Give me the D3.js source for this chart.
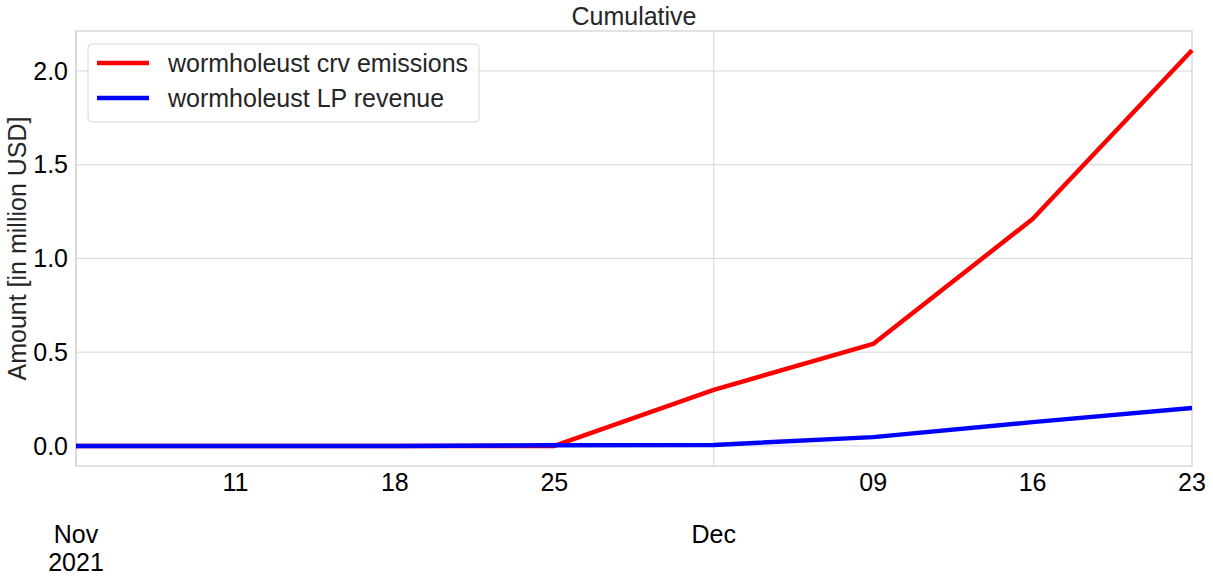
<!DOCTYPE html>
<html>
<head>
<meta charset="utf-8">
<script src="https://cdn.jsdelivr.net/npm/d3@7"></script>
<style>
  body { margin: 0; background: #fff; }
  svg { display: block; font-family: "Liberation Sans", Arial, sans-serif; }
</style>
</head>
<body>
<svg width="1213" height="583"></svg>
<script>
// weekly dates (Thursdays)
const dates = ["2021-11-04", "2021-11-11", "2021-11-18", "2021-11-25", "2021-12-02", "2021-12-09", "2021-12-16", "2021-12-23"];
const crvEmissions = [0, 0, 0, 0, 0.299, 0.544, 1.21, 2.11];
const lpRevenue = [0, 0, 0, 0.004, 0.005, 0.047, 0.127, 0.202];
const seriesNames = ["wormholeust crv emissions", "wormholeust LP revenue"];
const seriesColors = ["#ff0000", "#0000ff"];
const yTicks = [0, 0.5, 1.0, 1.5, 2.0];
const majorTicks = { "2021-11-04": ["Nov", "2021"], "2021-12-02": ["Dec"] };

const parse = d3.timeParse("%Y-%m-%d");
const svg = d3.select("svg");
const margin = { left: 76, right: 21, top: 31, bottom: 117 };
const width = 1213, height = 583;
const fs = "25px";

const x = d3.scaleTime()
  .domain(d3.extent(dates, parse))
  .range([margin.left, width - margin.right]);
const y = d3.scaleLinear()
  .domain([-0.107, 2.213])
  .range([height - margin.bottom, margin.top]);

// grid
svg.append("g")
  .selectAll("line")
  .data(yTicks)
  .join("line")
  .attr("x1", margin.left).attr("x2", width - margin.right)
  .attr("y1", d => y(d)).attr("y2", d => y(d))
  .attr("stroke", "#d6d6d6").attr("stroke-width", 1);
svg.append("g")
  .selectAll("line")
  .data(Object.keys(majorTicks))
  .join("line")
  .attr("x1", d => x(parse(d))).attr("x2", d => x(parse(d)))
  .attr("y1", margin.top).attr("y2", height - margin.bottom)
  .attr("stroke", "#d6d6d6").attr("stroke-width", 1);

// frame
svg.append("rect")
  .attr("x", margin.left).attr("y", margin.top)
  .attr("width", width - margin.left - margin.right)
  .attr("height", height - margin.top - margin.bottom)
  .attr("fill", "none").attr("stroke", "#d0d0d0").attr("stroke-width", 1.2);

// y tick labels
svg.append("g")
  .selectAll("text")
  .data(yTicks)
  .join("text")
  .attr("x", margin.left - 8)
  .attr("y", d => y(d))
  .attr("dy", "0.35em")
  .attr("text-anchor", "end")
  .style("font-size", fs)
  .attr("fill", "#000")
  .text(d => d3.format(".1f")(d));

// x tick labels
const minor = dates.filter(d => !majorTicks[d]);
svg.append("g")
  .selectAll("text")
  .data(minor)
  .join("text")
  .attr("x", d => x(parse(d)))
  .attr("y", height - margin.bottom + 25)
  .attr("text-anchor", "middle")
  .style("font-size", fs)
  .attr("fill", "#000")
  .text(d => d3.timeFormat("%d")(parse(d)));

const major = svg.append("g")
  .selectAll("text")
  .data(Object.keys(majorTicks))
  .join("text")
  .attr("x", d => x(parse(d)))
  .attr("y", height - margin.bottom + 77)
  .attr("text-anchor", "middle")
  .style("font-size", fs)
  .attr("fill", "#000");
major.selectAll("tspan")
  .data(d => majorTicks[d].map(t => [d, t]))
  .join("tspan")
  .attr("x", d => x(parse(d[0])))
  .attr("dy", (d, i) => i === 0 ? 0 : "1.1em")
  .text(d => d[1]);

// lines
const line = d3.line()
  .x((d, i) => x(parse(dates[i])))
  .y(d => y(d));
[crvEmissions, lpRevenue].forEach((vals, i) => {
  svg.append("path")
    .datum(vals)
    .attr("d", line)
    .attr("fill", "none")
    .attr("stroke", seriesColors[i])
    .attr("stroke-width", 4.5)
    .attr("stroke-linejoin", "round");
});

// title
svg.append("text")
  .attr("x", (margin.left + width - margin.right) / 2)
  .attr("y", 25)
  .attr("text-anchor", "middle")
  .style("font-size", fs)
  .attr("fill", "#262626")
  .text("Cumulative");

// y label
svg.append("text")
  .attr("transform", `translate(26, ${(margin.top + height - margin.bottom) / 2}) rotate(-90)`)
  .attr("text-anchor", "middle")
  .style("font-size", fs)
  .attr("fill", "#262626")
  .text("Amount [in million USD]");

// legend
const lg = svg.append("g").attr("transform", "translate(88, 44)");
lg.append("rect")
  .attr("width", 391).attr("height", 78)
  .attr("rx", 4)
  .attr("fill", "#fff").attr("fill-opacity", 0.8)
  .attr("stroke", "#d8d8d8");
seriesNames.forEach((name, i) => {
  const yy = 19 + i * 35;
  lg.append("line")
    .attr("x1", 9).attr("x2", 61)
    .attr("y1", yy).attr("y2", yy)
    .attr("stroke", seriesColors[i]).attr("stroke-width", 4.5);
  lg.append("text")
    .attr("x", 80).attr("y", yy)
    .attr("dy", "0.35em")
    .style("font-size", fs)
    .attr("fill", "#262626")
    .text(name);
});
</script>
</body>
</html>
